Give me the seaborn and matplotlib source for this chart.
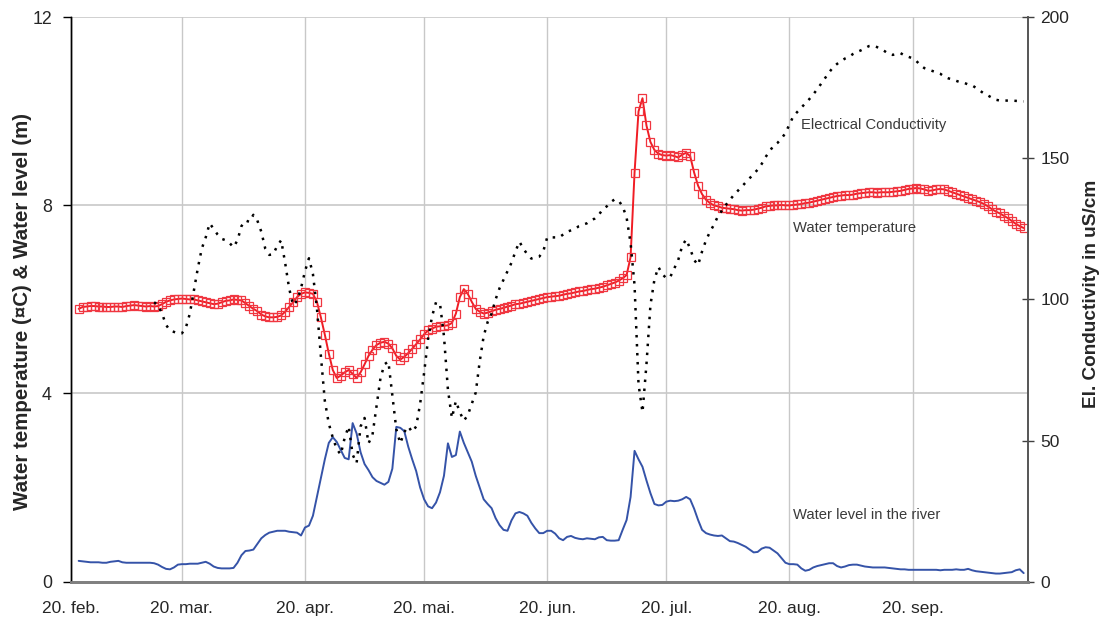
import pandas as pd
import matplotlib
matplotlib.use("Agg")
import matplotlib.pyplot as plt
import seaborn as sns

# daily readings, first day of each series
temp_start = "2007-02-22"
water_temp = [
    5.80, 5.84, 5.85, 5.86, 5.86, 5.85, 5.85, 5.84, 5.84, 5.85, 5.85, 5.84, 5.86, 5.87, 5.88, 5.87,
    5.86, 5.85, 5.86, 5.85, 5.86, 5.90, 5.95, 5.98, 6.00, 6.01, 6.02, 6.01, 6.00, 6.00, 5.98, 5.96,
    5.94, 5.92, 5.90, 5.91, 5.94, 5.97, 5.98, 6.00, 5.99, 5.98, 5.92, 5.86, 5.80, 5.75, 5.68, 5.64,
    5.62, 5.62, 5.63, 5.66, 5.74, 5.84, 5.94, 6.05, 6.12, 6.15, 6.14, 6.12, 5.95, 5.62, 5.25, 4.85,
    4.50, 4.33, 4.38, 4.45, 4.50, 4.42, 4.33, 4.45, 4.62, 4.80, 4.93, 5.03, 5.08, 5.10, 5.06, 4.96,
    4.80, 4.72, 4.78, 4.86, 4.95, 5.05, 5.15, 5.26, 5.34, 5.38, 5.42, 5.43, 5.44, 5.45, 5.50, 5.70,
    6.05, 6.22, 6.12, 5.95, 5.80, 5.74, 5.70, 5.72, 5.75, 5.78, 5.80, 5.82, 5.85, 5.87, 5.90, 5.91,
    5.93, 5.95, 5.97, 5.99, 6.01, 6.03, 6.05, 6.06, 6.07, 6.08, 6.10, 6.12, 6.13, 6.15, 6.17, 6.18,
    6.20, 6.22, 6.23, 6.25, 6.27, 6.30, 6.33, 6.36, 6.40, 6.45, 6.52, 6.90, 8.70, 10.00, 10.28, 9.70,
    9.35, 9.18, 9.10, 9.07, 9.06, 9.07, 9.05, 9.02, 9.08, 9.12, 9.05, 8.70, 8.42, 8.24, 8.12, 8.05,
    8.00, 7.98, 7.95, 7.94, 7.93, 7.92, 7.90, 7.89, 7.90, 7.90, 7.91, 7.93, 7.95, 7.98, 7.99, 8.00,
    8.00, 8.01, 8.00, 8.00, 8.01, 8.02, 8.03, 8.05, 8.06, 8.08, 8.10, 8.12, 8.14, 8.16, 8.18, 8.20,
    8.21, 8.22, 8.22, 8.23, 8.25, 8.26, 8.27, 8.28, 8.28, 8.27, 8.28, 8.28, 8.28, 8.29, 8.30, 8.31,
    8.33, 8.35, 8.36, 8.37, 8.36, 8.34, 8.31, 8.32, 8.34, 8.35, 8.34, 8.31, 8.28, 8.25, 8.22, 8.19,
    8.16, 8.13, 8.10, 8.07, 8.03, 7.98, 7.92, 7.87, 7.83, 7.78, 7.73, 7.67, 7.61, 7.56, 7.52,
]

level_start = "2007-02-22"
water_level = [
    0.44, 0.43, 0.42, 0.41, 0.41, 0.41, 0.40, 0.40, 0.42, 0.43, 0.44, 0.41, 0.40, 0.40, 0.40, 0.40,
    0.40, 0.40, 0.40, 0.39, 0.36, 0.31, 0.27, 0.26, 0.30, 0.36, 0.37, 0.37, 0.38, 0.38, 0.38, 0.40,
    0.42, 0.38, 0.32, 0.29, 0.28, 0.28, 0.28, 0.29, 0.40, 0.56, 0.65, 0.66, 0.68, 0.80, 0.92, 0.99,
    1.04, 1.06, 1.08, 1.08, 1.08, 1.06, 1.05, 1.04, 0.98, 1.15, 1.19, 1.40, 1.80, 2.20, 2.60, 2.95,
    3.07, 2.97, 2.80, 2.63, 2.60, 3.37, 3.15, 2.75, 2.50, 2.37, 2.22, 2.14, 2.10, 2.06, 2.12, 2.40,
    3.29, 3.27, 3.20, 2.87, 2.60, 2.35, 2.00, 1.75, 1.60, 1.56, 1.68, 1.90, 2.25, 2.94, 2.65, 2.69,
    3.19, 2.95, 2.75, 2.55, 2.25, 2.00, 1.75, 1.65, 1.56, 1.35, 1.20, 1.10, 1.08, 1.30, 1.45, 1.48,
    1.45, 1.40, 1.25, 1.13, 1.03, 1.03, 1.08, 1.08, 1.02, 0.92, 0.88, 0.95, 0.97, 0.93, 0.91, 0.90,
    0.92, 0.91, 0.90, 0.94, 0.95, 0.88, 0.87, 0.87, 0.88, 1.10, 1.31, 1.80, 2.78, 2.60, 2.44, 2.15,
    1.88, 1.65, 1.62, 1.63, 1.70, 1.72, 1.71, 1.72, 1.75, 1.80, 1.75, 1.55, 1.31, 1.10, 1.03, 1.00,
    0.98, 0.97, 0.98, 0.92, 0.86, 0.85, 0.82, 0.78, 0.74, 0.68, 0.62, 0.63, 0.70, 0.73, 0.72, 0.66,
    0.60, 0.50, 0.40, 0.37, 0.37, 0.36, 0.28, 0.23, 0.25, 0.30, 0.33, 0.35, 0.37, 0.39, 0.39, 0.33,
    0.30, 0.32, 0.35, 0.36, 0.36, 0.34, 0.32, 0.31, 0.30, 0.30, 0.30, 0.30, 0.29, 0.28, 0.27, 0.26,
    0.26, 0.25, 0.25, 0.25, 0.25, 0.25, 0.25, 0.25, 0.25, 0.24, 0.25, 0.25, 0.25, 0.26, 0.25, 0.25,
    0.27, 0.24, 0.22, 0.21, 0.20, 0.19, 0.18, 0.17, 0.17, 0.18, 0.19, 0.20, 0.24, 0.26, 0.18,
]

ec_start = "2007-03-13"
conductivity = [
    99, 98, 95, 91, 89, 88.5, 88, 88, 90, 95, 103, 111, 118, 122, 127, 125,
    123, 121.5, 121, 120, 118.5, 121, 126, 128, 127.5, 130, 128, 124, 118, 115.8, 116, 119,
    121, 113, 104, 98, 99.5, 104, 110, 114.6, 109, 97, 80, 64, 56, 51, 47, 45,
    51, 55, 45, 42, 55, 58, 49, 52, 62, 72, 77, 78, 66, 54, 49, 53, 55, 53,
    55, 63, 74, 86, 94, 99, 98.5, 87, 68, 58, 64, 60, 57, 59, 63, 67,
    78, 87, 92, 95, 100, 104, 107, 110, 113, 117, 120.5, 118, 116, 114.5, 115, 115.2,
    117, 122, 122, 122, 122, 123, 124, 124.5, 125, 126, 126.5, 127, 128, 128.7, 130, 132,
    133, 134.5, 135.5, 135, 133, 129, 120, 105, 70, 60, 77, 98, 107, 111.5, 109, 107.5,
    108, 111, 114, 119, 121.3, 118, 114, 112.2, 117, 121, 124, 126.5, 129.5, 131.5, 133.5, 135.3,
    137, 138.5, 140, 141.5, 143, 144.5, 146, 148, 150.5, 152.5, 154.5, 155.5, 157, 159, 162, 165,
    166.5, 168, 169.5, 171, 172.7, 174.5, 176.5, 178.5, 180.5, 182.3, 183.5, 184.5, 185.4, 186, 187, 187.7,
    188.3, 189, 189.8, 190, 189.5, 188.8, 188, 187, 186.7, 187, 187.3, 186.5, 186, 185.5, 184.5, 183,
    182, 181.5, 181, 180.5, 180, 179, 178.4, 178, 177.5, 177, 176.8, 176.2, 175.9, 175, 174, 173,
    172.3, 171.5, 170.8, 170.5, 170.5, 170.5, 170.5, 170.4, 170.3, 170.2,
]

tick_dates = ["2007-02-20", "2007-03-20", "2007-04-20", "2007-05-20",
              "2007-06-20", "2007-07-20", "2007-08-20", "2007-09-20"]
tick_labels = ["20. feb.", "20. mar.", "20. apr.", "20. mai.",
               "20. jun.", "20. jul.", "20. aug.", "20. sep."]

df_temp = pd.DataFrame({"date": pd.date_range(temp_start, periods=len(water_temp), freq="D"),
                        "value": water_temp})
df_level = pd.DataFrame({"date": pd.date_range(level_start, periods=len(water_level), freq="D"),
                         "value": water_level})
df_ec = pd.DataFrame({"date": pd.date_range(ec_start, periods=len(conductivity), freq="D"),
                      "value": conductivity})

sns.set_theme(style="white")
plt.rcParams["font.family"] = ["Liberation Sans", "DejaVu Sans"]

fig = plt.figure(figsize=(11.05, 6.2), dpi=100)
ax = fig.add_axes([0.064, 0.062, 0.866, 0.910])
ax2 = ax.twinx()

grid_c = "#c8c8c8"
for d in tick_dates:
    ax.axvline(pd.Timestamp(d), color=grid_c, lw=1, zorder=0)
for v in [4, 8, 12]:
    ax.axhline(v, color=grid_c, lw=1.2, zorder=0)

sns.lineplot(data=df_level, x="date", y="value", ax=ax, color="#3553a8", lw=1.4)
sns.lineplot(data=df_temp, x="date", y="value", ax=ax, color="#f01c24", lw=1.4,
             marker="s", markersize=5.8, markerfacecolor="none",
             markeredgecolor="#f03640", markeredgewidth=0.9)
sns.lineplot(data=df_ec, x="date", y="value", ax=ax2, color="black", lw=1.8,
             linestyle=(0, (1.0, 2.6)))

ax.set_xlim(pd.Timestamp("2007-02-20"), pd.Timestamp("2007-10-19"))
ax.set_ylim(0, 12)
ax2.set_ylim(0, 200)
ax.set_yticks([0, 4, 8, 12])
ax2.set_yticks([0, 50, 100, 150, 200])
ax.set_xticks([pd.Timestamp(d) for d in tick_dates])
ax.set_xticklabels(tick_labels, fontsize=12.5)
ax.tick_params(axis="y", labelsize=12.8, direction="out", length=5.5, width=1, color="black", pad=8)
ax.tick_params(axis="x", direction="out", length=4, width=1, color="#808080", pad=10)
ax2.tick_params(axis="y", labelsize=12.5, direction="inout", length=8, width=1, color="#404040", pad=5)

ax.set_xlabel("")
ax.set_ylabel("Water temperature (¤C) & Water level (m)", fontsize=14.8, fontweight="bold")
ax2.set_ylabel("El. Conductivity in uS/cm", fontsize=13.7, fontweight="bold")
ax.yaxis.set_label_coords(-0.040, 0.478)
ax2.yaxis.set_label_coords(1.058, 0.51)

for a in (ax, ax2):
    a.spines["top"].set_visible(False)
    a.spines["left"].set_color("black")
    a.spines["right"].set_color("#555555")
    a.spines["bottom"].set_color("#808080")
    a.spines["bottom"].set_linewidth(2)
    a.spines["left"].set_linewidth(1)
    a.spines["right"].set_linewidth(1.2)

txt_c = "#3a3a3a"
ax.text(pd.Timestamp("2007-08-23"), 9.72, "Electrical Conductivity", fontsize=10.6, color=txt_c, va="center")
ax.text(pd.Timestamp("2007-08-21"), 7.52, "Water temperature", fontsize=10.6, color=txt_c, va="center")
ax.text(pd.Timestamp("2007-08-21"), 1.42, "Water level in the river", fontsize=10.6, color=txt_c, va="center")

fig.savefig("out.png", dpi=100)
